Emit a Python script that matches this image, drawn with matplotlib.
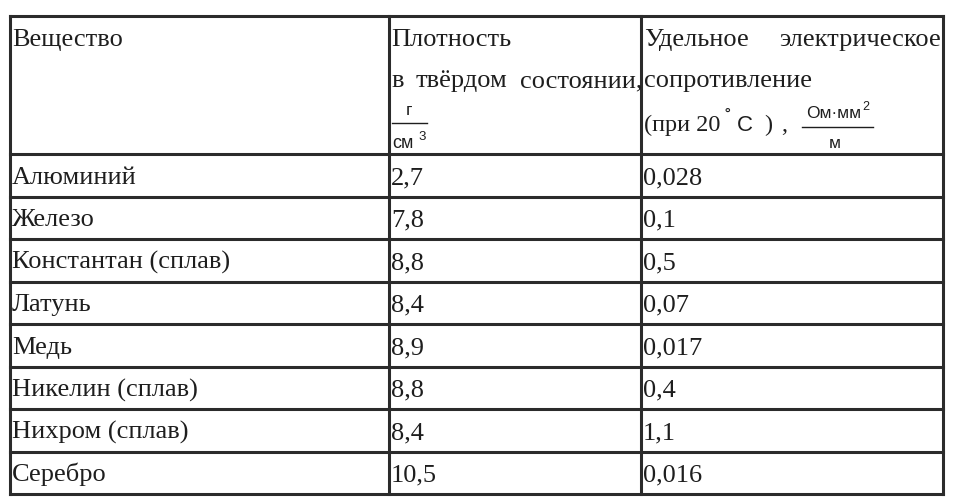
import matplotlib
matplotlib.use('Agg')
import matplotlib.pyplot as plt

# table data
header = 'Вещество'
substances = ['Алюминий', 'Железо', 'Константан (сплав)', 'Латунь',
              'Медь', 'Никелин (сплав)', 'Нихром (сплав)', 'Серебро']
density = ['2,7', '7,8', '8,8', '8,4', '8,9', '8,8', '8,4', '10,5']
resistivity = ['0,028', '0,1', '0,5', '0,07', '0,017', '0,4', '1,1', '0,016']

# layout (pixels)
W, H = 956, 503
col_x = [10, 389, 641, 943]
top, head_bot, bottom = 16, 154, 494
line_c = '#2b2b2b'
text_c = '#1e1e1e'
serif = 'Liberation Serif'
sans = 'Liberation Sans'
fs = 19

fig = plt.figure(figsize=(W / 100, H / 100), dpi=100)
ax = fig.add_axes([0, 0, 1, 1])
ax.set_xlim(0, W)
ax.set_ylim(H, 0)
ax.axis('off')

n = len(substances)
row_h = (bottom - head_bot) / n
row_y = [head_bot + i * row_h for i in range(n + 1)]

# grid
for y in [top] + row_y:
    ax.plot([col_x[0], col_x[-1]], [y, y], color=line_c, lw=2.2, solid_capstyle='projecting')
for x in col_x:
    ax.plot([x, x], [top, bottom], color=line_c, lw=2.2, solid_capstyle='projecting')


def txt(x, y, s, size=fs, family=serif, **kw):
    return ax.text(x, y, s, fontsize=size, family=family, color=text_c, va='baseline', **kw)


pad = 2
for i in range(n):
    base = row_y[i] + 30
    txt(col_x[0] + pad, base, substances[i])
    txt(col_x[1] + pad, base, density[i])
    txt(col_x[2] + pad, base, resistivity[i])

renderer = fig.canvas.get_renderer()


def justify(words, x0, x1, y):
    # spread words over the cell width like justified text
    arts = [txt(0, y, w) for w in words]
    widths = [a.get_window_extent(renderer).width for a in arts]
    gap = (x1 - x0 - sum(widths)) / max(len(words) - 1, 1)
    x = x0
    for a, w in zip(arts, widths):
        a.set_x(x)
        x += w + gap


# header
b1, b2, b3 = 46, 87, 131
txt(col_x[0] + pad, b1, header)
txt(col_x[1] + pad, b1, 'Плотность')
justify(['в', 'твёрдом', 'состоянии,'], col_x[1] + pad, col_x[2] + 1, b2)
justify(['Удельное', 'электрическое'], col_x[2] + 3, col_x[3] - 2, b1)
txt(col_x[2] + 3, b2, 'сопротивление')

# (при 20 °C ),
txt(644, b3, '(при 20', size=17.5)
txt(725, b3 - 8, '˚', size=14, family=sans)
txt(737, b3, 'С', size=16, family=sans)
txt(764, b3, ')', size=17.5)
txt(781, b3, ',', size=17.5)

# fraction g/cm3
ax.plot([392, 427], [123, 123], color=text_c, lw=1)
txt(409, 115, 'г', size=12.5, family=sans, ha='center')
txt(392, 148, 'см', size=13, family=sans)
txt(418, 140, '3', size=9.5, family=sans)

# fraction Ohm*mm2/m
ax.plot([802, 873], [127, 127], color=text_c, lw=1)
txt(806, 118, 'Ом·мм', size=12.5, family=sans)
txt(862, 110, '2', size=9, family=sans)
txt(835, 148, 'м', size=12.5, family=sans, ha='center')

fig.savefig('out.png', dpi=100, facecolor='white')
